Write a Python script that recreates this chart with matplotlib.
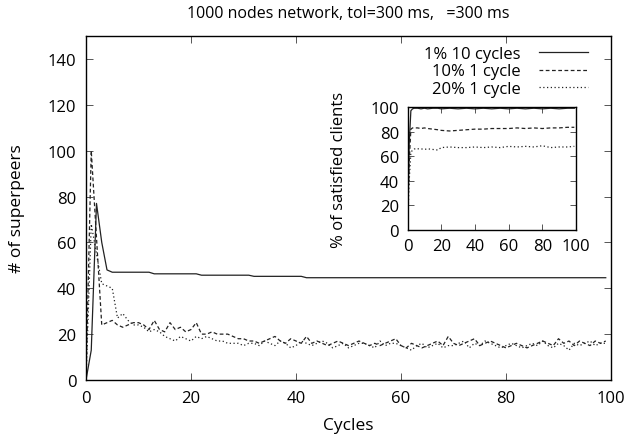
import matplotlib
matplotlib.use("Agg")
import matplotlib.pyplot as plt

plt.rcParams['font.family'] = ['Open Sans', 'DejaVu Sans']

title = "1000 nodes network, tol=300 ms,   =300 ms"
xlabel = "Cycles"
ylabel = "# of superpeers"
inset_ylabel = "% of satisfied clients"
labels = ["1% 10 cycles", "10% 1 cycle", "20% 1 cycle"]

cycles = list(range(100))

sp_1pct = [0, 13, 77, 60, 48, 47, 47, 47, 47, 47,
           47, 47, 47, 46.3, 46.3, 46.3, 46.3, 46.3, 46.3, 46.3,
           46.3, 46.3, 45.7, 45.7, 45.7, 45.7, 45.7, 45.7, 45.7, 45.7,
           45.7, 45.7, 45.2, 45.2, 45.2, 45.2, 45.2, 45.2, 45.2, 45.2,
           45.2, 45.2, 44.6, 44.6, 44.6, 44.6, 44.6, 44.6, 44.6, 44.6,
           44.6, 44.6, 44.6, 44.6, 44.6, 44.6, 44.6, 44.6, 44.6, 44.6,
           44.6, 44.6, 44.6, 44.6, 44.6, 44.6, 44.6, 44.6, 44.6, 44.6,
           44.6, 44.6, 44.6, 44.6, 44.6, 44.6, 44.6, 44.6, 44.6, 44.6,
           44.6, 44.6, 44.6, 44.6, 44.6, 44.6, 44.6, 44.6, 44.6, 44.6,
           44.6, 44.6, 44.6, 44.6, 44.6, 44.6, 44.6, 44.6, 44.6, 44.6]

sp_10pct = [0, 100, 62, 24, 25, 26, 24, 23, 24, 25,
            25, 24, 22, 26, 22, 21, 25, 22, 23, 21,
            22, 25, 20, 20, 21, 20, 20, 20, 19, 18,
            18, 17, 17, 16, 17, 18, 19, 17, 16, 18,
            17, 16, 19, 16, 17, 16, 15, 16, 17, 16,
            15, 16, 17, 16, 15, 16, 15, 16, 17, 18,
            15, 14, 16, 15, 14, 15, 16, 17, 15, 19,
            16, 15, 16, 17, 18, 15, 16, 17, 16, 15,
            14, 15, 16, 15, 14, 15, 16, 17, 16, 15,
            18, 16, 17, 15, 17, 16, 15, 17, 16, 17]

sp_20pct = [0, 68, 55, 42, 41, 40, 27, 29, 26, 24,
            24, 23, 21, 22, 21, 19, 18, 17, 19, 18,
            17, 19, 18, 19, 18, 17, 17, 16, 16, 16,
            15, 16, 16, 15, 17, 16, 15, 17, 16, 14,
            15, 17, 16, 15, 16, 17, 16, 14, 15, 16,
            14, 15, 16, 16, 15, 14, 17, 15, 16, 16,
            15, 14, 13, 15, 16, 14, 15, 16, 14, 15,
            15, 16, 17, 14, 16, 15, 17, 16, 15, 14,
            15, 16, 15, 14, 15, 16, 15, 17, 15, 14,
            16, 15, 13, 16, 15, 16, 17, 15, 16, 16]

inset_cycles = [0, 1, 2, 3, 4, 5, 6, 8, 10, 12, 15, 18, 20, 25, 30,
                35, 40, 45, 50, 55, 60, 65, 70, 75, 80, 85, 90, 95, 99]
sat_1pct = [0, 70, 97, 98.5, 99, 99, 99, 98.5, 99, 98.5, 99, 99, 98.5, 99, 98.5,
            99, 98.5, 99, 98.5, 99, 98.5, 99, 98.5, 99, 98.5, 99, 98.5, 99, 99]
sat_10pct = [0, 55, 82, 83, 83, 83, 83, 82.5, 83, 82.5, 82, 81.5, 81, 80.5, 81,
             81.5, 82, 82, 82.5, 82.5, 82.5, 83, 82.5, 83, 82.5, 83, 83, 83.5, 83.5]
sat_20pct = [0, 40, 63, 65, 66, 65.5, 66, 66, 65.5, 66, 65.5, 65, 67, 67.5, 67,
             67, 67.5, 67, 67.5, 67, 68, 67.5, 68, 67.5, 68.5, 67, 67.5, 67.5, 68]

W, H = 624, 439
fig = plt.figure(figsize=(W / 100, H / 100), dpi=100)

def rect(l, t, r, b):
    return [l / W, (H - b) / H, (r - l) / W, (b - t) / H]

styles = [dict(color='#222222', lw=0.9, ls='-'),
          dict(color='#222222', lw=0.9, ls=(0, (3, 2))),
          dict(color='#222222', lw=0.9, ls=(0, (1, 2)))]

ax = fig.add_axes(rect(86, 37, 611, 381))
lines = []
for y, st, lab in zip([sp_1pct, sp_10pct, sp_20pct], styles, labels):
    l, = ax.plot(cycles, y, label=lab, **st)
    lines.append(l)
ax.set_xlim(0, 100)
ax.set_ylim(0, 150)
ax.set_xticks([0, 20, 40, 60, 80, 100])
ax.set_yticks([0, 20, 40, 60, 80, 100, 120, 140])
ax.tick_params(direction='in', top=True, right=True, length=5, width=0.7,
               color='#555555', labelsize=12, pad=7)
for s in ax.spines.values():
    s.set_linewidth(1.0)
ax.set_xlabel(xlabel, fontsize=12.5, labelpad=8)
ax.set_ylabel(ylabel, fontsize=12.5, labelpad=16)

fig.text(0.5 * (86 + 611) / W, (H - 14) / H, title, ha='center', va='center', fontsize=11.5)

leg = fig.legend(handles=lines, labels=labels, loc='upper right',
                 bbox_to_anchor=(588 / W, (H - 47) / H), frameon=False,
                 markerfirst=False, fontsize=12, handlelength=2.95,
                 handletextpad=1.08, labelspacing=0.08, borderpad=0, borderaxespad=0)

ins = fig.add_axes(rect(407.5, 108, 576, 231))
for y, st in zip([sat_1pct, sat_10pct, sat_20pct], styles):
    ins.plot(inset_cycles, y, **st)
ins.set_xlim(0, 100)
ins.set_ylim(0, 100)
ins.set_xticks([0, 20, 40, 60, 80, 100])
ins.set_yticks([0, 20, 40, 60, 80, 100])
ins.tick_params(direction='in', top=True, right=True, length=4, width=0.7,
                color='#555555', labelsize=12, pad=6)
for s in ins.spines.values():
    s.set_linewidth(1.0)
ins.set_ylabel(inset_ylabel, fontsize=12, labelpad=17)

fig.savefig("out.png", dpi=100)
